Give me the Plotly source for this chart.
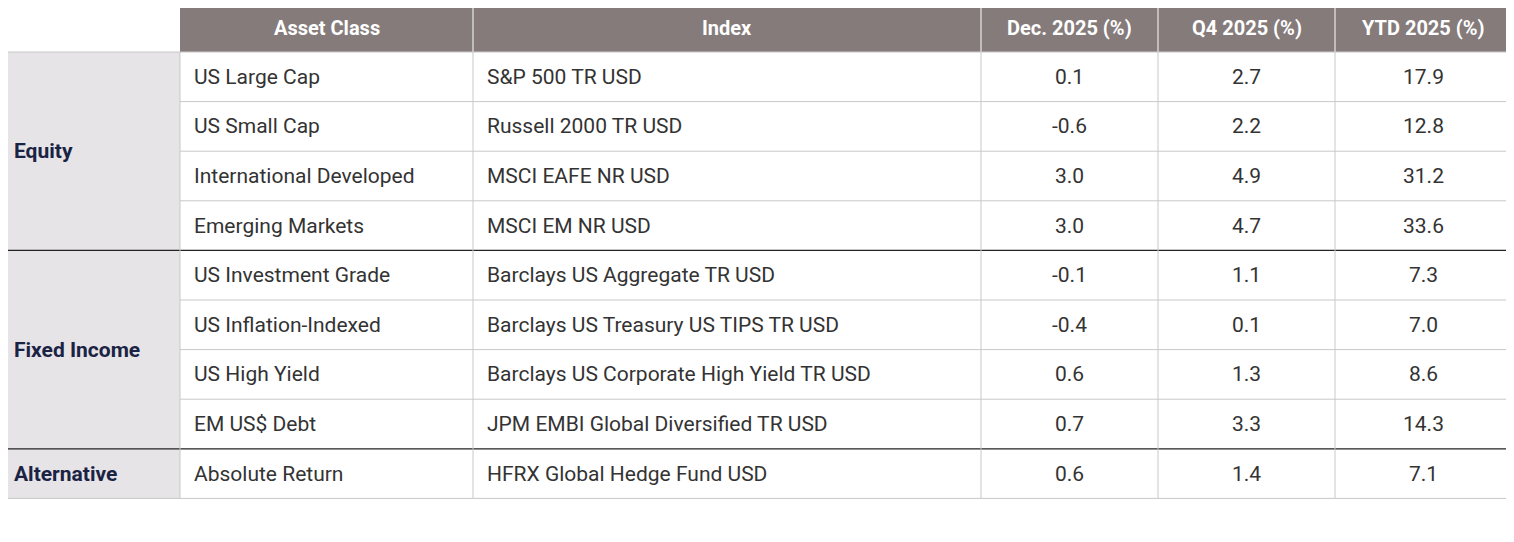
import plotly.graph_objects as go

headers = ["Asset Class", "Index", "Dec. 2025 (%)", "Q4 2025 (%)", "YTD 2025 (%)"]
groups = ["Equity", "Fixed Income", "Alternative"]
group_sizes = [4, 4, 1]
asset_classes = ["US Large Cap", "US Small Cap", "International Developed", "Emerging Markets",
                 "US Investment Grade", "US Inflation-Indexed", "US High Yield", "EM US$ Debt",
                 "Absolute Return"]
indexes = ["S&P 500 TR USD", "Russell 2000 TR USD", "MSCI EAFE NR USD", "MSCI EM NR USD",
           "Barclays US Aggregate TR USD", "Barclays US Treasury US TIPS TR USD",
           "Barclays US Corporate High Yield TR USD", "JPM EMBI Global Diversified TR USD",
           "HFRX Global Hedge Fund USD"]
dec = [0.1, -0.6, 3.0, 3.0, -0.1, -0.4, 0.6, 0.7, 0.6]
q4 = [2.7, 2.2, 4.9, 4.7, 1.1, 0.1, 1.3, 3.3, 1.4]
ytd = [17.9, 12.8, 31.2, 33.6, 7.3, 7.0, 8.6, 14.3, 7.1]
source = "Source: Morningstar Indexes, 12/31/25"

W, H, PAD = 1514, 542, 8
col_x = [0, 180, 473, 981, 1158, 1335, 1512]
top, head_h, row_h = 3, 49, 49.6
HEAD = "#857b7b"; GRP = "#e6e4e6"; LINE = "#c8c8c8"; DARK = "#333333"
FONT = "Roboto"

fig = go.Figure()
fig.add_trace(go.Scatter(x=[PAD, W - PAD], y=[PAD, H - PAD], mode="markers", marker=dict(opacity=0), hoverinfo="skip"))
shapes, ann = [], []
y0 = top + head_h
shapes.append(dict(type="rect", x0=col_x[1], x1=col_x[6], y0=top, y1=y0, fillcolor=HEAD, line=dict(width=0)))
for i, h in enumerate(headers):
    c = (col_x[i+1] + col_x[i+2]) / 2
    ann.append(dict(x=c, y=top + head_h/2, text=f"<b>{h}</b>", showarrow=False,
                    font=dict(color="white", size=20, family=FONT)))
    if i > 0:
        shapes.append(dict(type="line", x0=col_x[i+1], x1=col_x[i+1], y0=top, y1=y0, line=dict(color="white", width=1)))
n = len(asset_classes)
yb = y0 + n*row_h
r = 0
for g, s in zip(groups, group_sizes):
    ga, gb = y0 + r*row_h, y0 + (r+s)*row_h
    shapes.append(dict(type="rect", x0=0, x1=col_x[1], y0=ga, y1=gb, fillcolor=GRP, line=dict(width=0)))
    ann.append(dict(x=12, y=(ga+gb)/2, text=f"<b>{g}</b>", xanchor="left", showarrow=False,
                    font=dict(color="#1a2344", size=21, family=FONT)))
    r += s
for k in range(n):
    cy = y0 + (k+0.5)*row_h
    ann.append(dict(x=col_x[1]+12, y=cy, text=asset_classes[k], xanchor="left", showarrow=False, font=dict(color=DARK, size=21, family=FONT)))
    ann.append(dict(x=col_x[2]+12, y=cy, text=indexes[k], xanchor="left", showarrow=False, font=dict(color=DARK, size=21, family=FONT)))
    for j, arr in enumerate([dec, q4, ytd]):
        ann.append(dict(x=(col_x[3+j]+col_x[4+j])/2, y=cy, text=f"{arr[k]:.1f}", showarrow=False, font=dict(color=DARK, size=21, family=FONT)))
bounds = [sum(group_sizes[:i]) for i in range(1, len(group_sizes))]
for k in range(1, n):
    yy = y0 + k*row_h
    if k in bounds:
        shapes.append(dict(type="line", x0=0, x1=col_x[6], y0=yy, y1=yy, line=dict(color="#222222", width=1.2)))
    else:
        shapes.append(dict(type="line", x0=col_x[1], x1=col_x[6], y0=yy, y1=yy, line=dict(color=LINE, width=1)))
shapes.append(dict(type="line", x0=0, x1=col_x[6], y0=y0, y1=y0, line=dict(color=LINE, width=1)))
shapes.append(dict(type="line", x0=0, x1=col_x[6], y0=yb, y1=yb, line=dict(color=LINE, width=1)))
for xx in col_x[1:]:
    shapes.append(dict(type="line", x0=xx, x1=xx, y0=y0, y1=yb, line=dict(color=LINE, width=1)))
ann.append(dict(x=col_x[6], y=530, text=source, xanchor="right", showarrow=False, font=dict(color="#666666", size=18, family=FONT)))

for s in shapes:
    s["layer"] = "above"
fig.update_layout(width=W - 2*PAD, height=H - 2*PAD, margin=dict(l=0, r=0, t=0, b=0), plot_bgcolor="white", paper_bgcolor="white",
                  showlegend=False, shapes=shapes, annotations=ann,
                  xaxis=dict(range=[PAD, W - PAD], visible=False, fixedrange=True),
                  yaxis=dict(range=[H - PAD, PAD], visible=False, fixedrange=True))
fig.write_html("out.html", config={"displayModeBar": False})
